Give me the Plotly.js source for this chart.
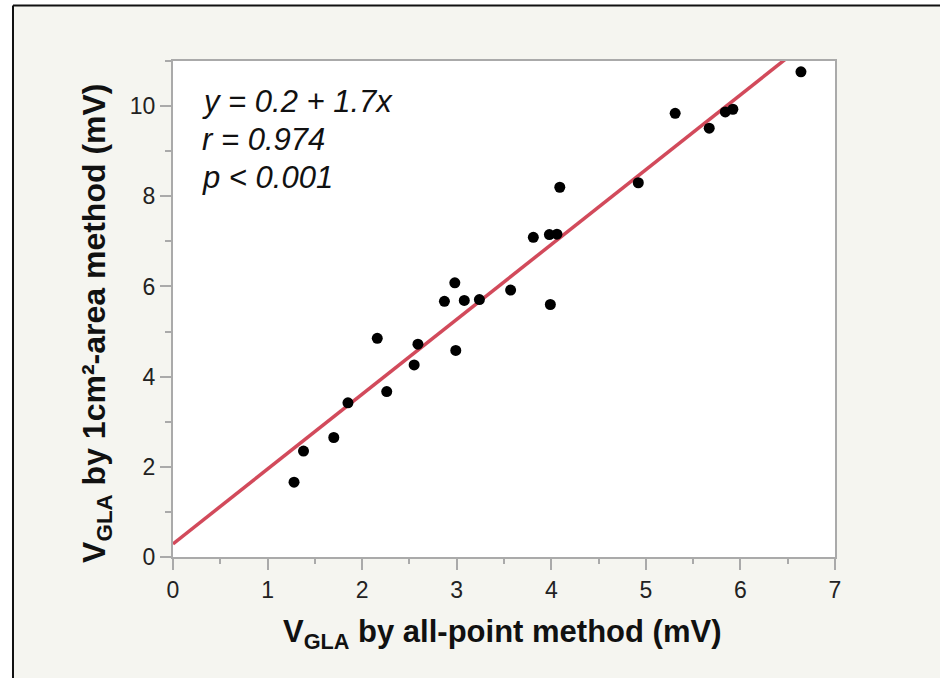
<!DOCTYPE html>
<html>
<head>
<meta charset="utf-8">
<script src="https://cdn.plot.ly/plotly-3.0.1.min.js"></script>
<style>html,body{margin:0;padding:0;background:#fff;}#chart{width:940px;height:678px;}</style>
</head>
<body>
<div id="chart"></div>
<script>
// Data
const allPoint = [1.28, 1.38, 1.70, 1.85, 2.16, 2.26, 2.55, 2.59, 2.87, 2.98, 2.99, 3.08, 3.24, 3.57, 3.81, 3.98, 4.06, 3.99, 4.09, 4.92, 5.31, 5.67, 5.84, 5.92, 6.64];
const areaMethod = [1.66, 2.35, 2.65, 3.42, 4.85, 3.67, 4.26, 4.72, 5.67, 6.08, 4.58, 5.69, 5.71, 5.92, 7.09, 7.15, 7.16, 5.60, 8.20, 8.30, 9.84, 9.51, 9.87, 9.93, 10.76];
const fitIntercept = 0.29;
const fitSlope = 1.66;
const fitX = [0, 7];
const statsLines = ["y = 0.2 + 1.7x", "r = 0.974", "p < 0.001"];
const xTicks = [0, 1, 2, 3, 4, 5, 6, 7];
const yTicks = [0, 2, 4, 6, 8, 10];

const fitY = fitX.map(x => fitIntercept + fitSlope * x);

const traces = [
  {x: fitX, y: fitY, type: 'scatter', mode: 'lines',
   line: {color: '#d24a5b', width: 3.5}, hoverinfo: 'skip', showlegend: false},
  {x: allPoint, y: areaMethod, type: 'scatter', mode: 'markers',
   marker: {color: '#000', size: 11}, showlegend: false, cliponaxis: false}
];

const tickFont = {family: 'Liberation Sans, Arial, sans-serif', size: 23, color: '#222'};
const axisCommon = {
  showgrid: false, zeroline: false, showline: true, mirror: true,
  linecolor: '#aaaaaa', linewidth: 2, ticks: 'outside', ticklen: 11,
  tickcolor: '#aaaaaa', tickwidth: 2, tickfont: tickFont, fixedrange: true
};

const annStats = statsLines.map((t, i) => ({
  xref: 'x', yref: 'y', x: 0.29, y: [10.11, 9.25, 8.41][i],
  xanchor: 'left', yanchor: 'middle', showarrow: false, text: t,
  font: {family: 'Liberation Sans, Arial, sans-serif', size: 31, color: '#111', style: 'italic'}
}));

const layout = {
  width: 940, height: 678,
  margin: {l: 173, r: 105, t: 61, b: 121, pad: 0},
  paper_bgcolor: '#f5f5f0', plot_bgcolor: '#ffffff',
  showlegend: false,
  xaxis: Object.assign({}, axisCommon, {
    range: [0, 7], tickvals: xTicks, ticktext: xTicks.map(String),
    minor: {dtick: 0.5, ticklen: 5, tickcolor: '#aaaaaa', tickwidth: 2, ticks: 'outside'}
  }),
  yaxis: Object.assign({}, axisCommon, {
    range: [0, 11], tickvals: yTicks, ticktext: yTicks.map(String),
    minor: {dtick: 1, ticklen: 6, tickcolor: '#aaaaaa', tickwidth: 2, ticks: 'outside'}
  }),
  annotations: annStats.concat([
    {xref: 'paper', yref: 'paper', x: 0.497, y: -0.155, xanchor: 'center', yanchor: 'middle',
     showarrow: false, text: 'V<sub>GLA</sub> by all-point method (mV)',
     font: {family: 'Liberation Sans, Arial, sans-serif', size: 31, color: '#111', weight: 'bold'}},
    {xref: 'paper', yref: 'paper', x: -0.1148, y: 0.47, xanchor: 'center', yanchor: 'middle',
     showarrow: false, textangle: -90, text: 'V<sub>GLA</sub> by 1cm²-area method (mV)',
     font: {family: 'Liberation Sans, Arial, sans-serif', size: 32, color: '#111', weight: 'bold'}}
  ]),
  shapes: [
    {type: 'rect', xref: 'paper', yref: 'paper', x0: -0.4, x1: 1.4, y0: 1.1129, y1: 1.25,
     fillcolor: '#ffffff', line: {width: 0}, layer: 'above'},
    {type: 'rect', xref: 'paper', yref: 'paper', x0: -0.4, x1: -0.2417, y0: -0.4, y1: 1.25,
     fillcolor: '#ffffff', line: {width: 0}, layer: 'above'},
    {type: 'line', xref: 'paper', yref: 'paper', x0: -0.2417, x1: 1.4, y0: 1.1119, y1: 1.1119,
     line: {color: '#111', width: 2}, layer: 'above'},
    {type: 'line', xref: 'paper', yref: 'paper', x0: -0.2417, x1: -0.2417, y0: -0.4, y1: 1.1119,
     line: {color: '#111', width: 2}, layer: 'above'}
  ]
};

Plotly.newPlot('chart', traces, layout, {displayModeBar: false, staticPlot: true});
</script>
</body>
</html>
